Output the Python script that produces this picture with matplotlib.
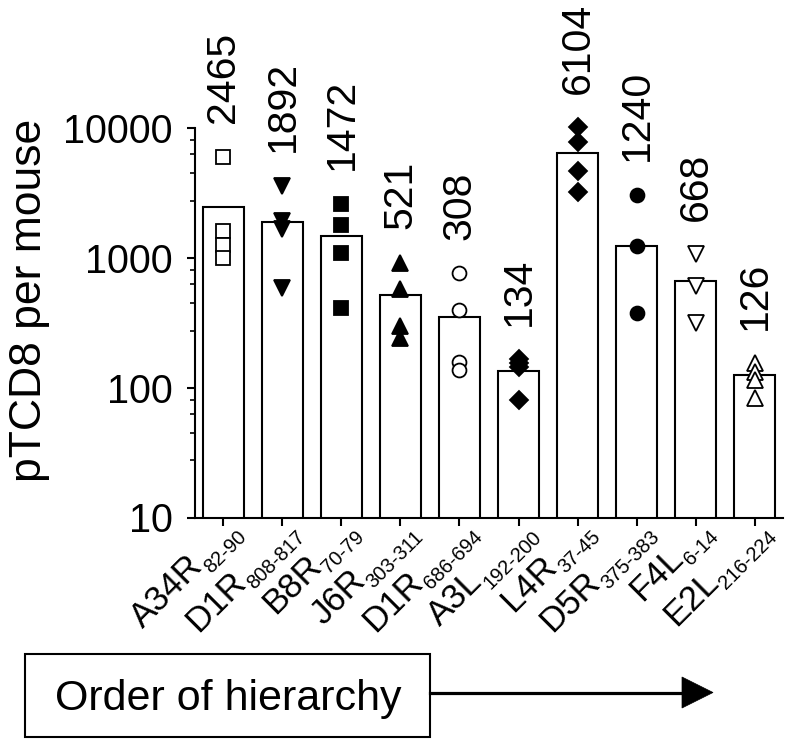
import matplotlib
matplotlib.use('Agg')
import matplotlib.pyplot as plt
import numpy as np
from matplotlib.patches import Rectangle, Polygon
from matplotlib.lines import Line2D
from matplotlib.ticker import FixedLocator, NullFormatter

plt.rcParams['font.family'] = ['Liberation Sans', 'DejaVu Sans']

# ---------------- data ----------------
epitopes = ['A34R', 'D1R', 'B8R', 'J6R', 'D1R', 'A3L', 'L4R', 'D5R', 'F4L', 'E2L']
positions = ['82-90', '808-817', '70-79', '303-311', '686-694',
             '192-200', '37-45', '375-383', '6-14', '216-224']
bar_heights = [2465, 1892, 1472, 521, 349, 134, 6440, 1240, 668, 126]
value_labels = ['2465', '1892', '1472', '521', '308', '134', '6104', '1240', '668', '126']
mouse_values = [
    [6000, 1600, 1260, 1000],
    [3600, 1930, 1670, 590],
    [2620, 1780, 1080, 408],
    [920, 580, 300, 240],
    [760, 394, 159, 137],
    [165, 155, 145, 80],
    [10200, 7800, 4700, 3200],
    [3060, 1225, 377],
    [1070, 607, 315],
    [154, 133, 115, 83],
]
marker_shapes = ['s', 'v', 's', '^', 'o', 'D', 'D', 'o', 'v', '^']
marker_fills = ['white', 'black', 'black', 'black', 'white',
                'black', 'black', 'black', 'white', 'white']
marker_sizes = [10, 11, 10, 11, 10, 9.5, 9.5, 10, 11, 11]
y_major = [10, 100, 1000, 10000]
y_minor_mult = [8.1, 6.3, 4.5, 2.75]

# ---------------- figure ----------------
W, H = 793, 739
fig = plt.figure(figsize=(W / 100, H / 100), dpi=100)
fx = lambda px: px / W
fy = lambda py: 1 - py / H

ax = fig.add_axes([fx(195), fy(517.5), (783 - 195) / W, (517.5 - 128) / H])
ax.set_yscale('log')
x = np.arange(len(epitopes))

ax.bar(x, bar_heights, width=0.68, color='white', edgecolor='black',
       linewidth=1.5, zorder=2)

for i, vals in enumerate(mouse_values):
    ax.plot([i] * len(vals), vals, ls='none', marker=marker_shapes[i],
            markersize=marker_sizes[i], markerfacecolor=marker_fills[i],
            markeredgecolor='black', markeredgewidth=1.3, zorder=3, clip_on=False)
    ax.annotate(value_labels[i], xy=(i, max(vals)), xytext=(0, 24),
                textcoords='offset points', rotation=90, ha='center', va='bottom',
                fontsize=29.5, annotation_clip=False)

ax.set_xlim(-0.483, len(epitopes) - 1 + 0.483)
ax.set_ylim(10, 10000)
ax.yaxis.set_major_locator(FixedLocator(y_major))
ax.set_yticklabels([str(v) for v in y_major])
minors = [m * 10 ** d for d in range(1, 4) for m in y_minor_mult]
ax.yaxis.set_minor_locator(FixedLocator(minors))
ax.yaxis.set_minor_formatter(NullFormatter())
ax.set_xticks(x)
ax.set_xticklabels([])

for sp in ['top', 'right']:
    ax.spines[sp].set_visible(False)
for sp in ['left', 'bottom']:
    ax.spines[sp].set_linewidth(1.5)

ax.tick_params(axis='y', which='major', length=6, width=1.5, labelsize=28.5, pad=10)
ax.tick_params(axis='y', which='minor', length=3.5, width=1.2)
ax.tick_params(axis='x', which='major', length=6, width=1.5)

fig.text(fx(30), fy(300), 'pTCD8 per mouse', rotation=90, ha='center',
         va='center', fontsize=32)

# composite x tick labels (name + subscript positions)
MAIN, SUB, RAISE = 25, 14.5, 6.5
renderer = fig.canvas.get_renderer()


def width_pt(s, size):
    t = fig.text(0, 0, s, fontsize=size)
    w = t.get_window_extent(renderer).width * 72 / fig.dpi
    t.remove()
    return w


u = np.array([np.cos(np.radians(45)), np.sin(np.radians(45))])
n = np.array([-u[1], u[0]])
p0 = np.array([17.0, -14.5])
for i, (name, pos) in enumerate(zip(epitopes, positions)):
    ax.annotate(pos, xy=(i, 0), xycoords=('data', 'axes fraction'),
                xytext=p0, textcoords='offset points', rotation=45,
                rotation_mode='anchor', ha='right', va='baseline',
                fontsize=SUB, annotation_clip=False)
    q = p0 - width_pt(pos, SUB) * u + RAISE * n
    ax.annotate(name, xy=(i, 0), xycoords=('data', 'axes fraction'),
                xytext=q, textcoords='offset points', rotation=45,
                rotation_mode='anchor', ha='right', va='baseline',
                fontsize=MAIN, annotation_clip=False)

# "Order of hierarchy" box and arrow
fig.add_artist(Rectangle((fx(25), fy(737)), fx(430) - fx(25), fy(654) - fy(737),
                         transform=fig.transFigure, fill=False, ec='black', lw=1.5))
fig.text(fx(228), fy(710), 'Order of hierarchy', ha='center', va='baseline',
         fontsize=31)
fig.add_artist(Line2D([fx(430), fx(685)], [fy(692.5), fy(692.5)], lw=2.3,
                      color='black', transform=fig.transFigure))
fig.add_artist(Polygon([(fx(682), fy(677)), (fx(713), fy(692.5)), (fx(682), fy(708))],
                       closed=True, fc='black', ec='black', lw=0.5,
                       transform=fig.transFigure))

fig.savefig('out.png', dpi=100)
